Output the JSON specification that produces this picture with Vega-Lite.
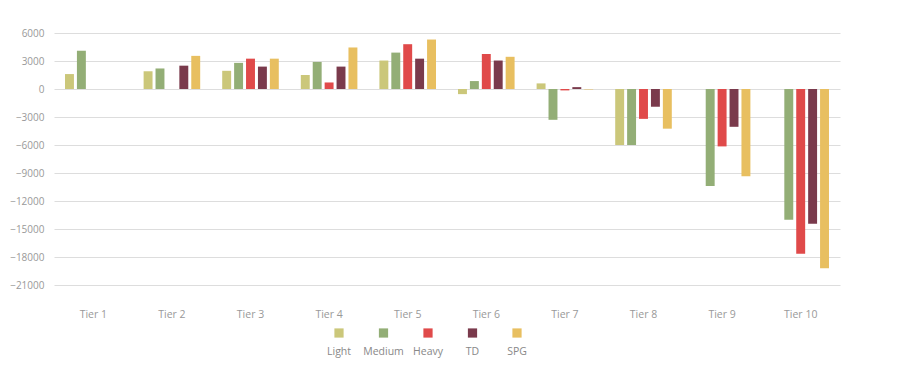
{
  "$schema": "https://vega.github.io/schema/vega-lite/v6.json",
  "background": "white",
  "padding": {"top": 28, "left": 5, "right": 5, "bottom": 5},
  "config": {
    "font": "Open Sans",
    "view": {"stroke": null},
    "axis": {"labelFont": "Open Sans", "labelColor": "#999999", "labelFontSize": 10, "domain": false, "ticks": false, "title": null, "gridColor": "#dddddd"},
    "concat": {"spacing": 4}
  },
  "datasets": {
    "tiers": [
      {"tier": "Tier 1", "type": "Light", "value": 1600},
      {"tier": "Tier 1", "type": "Medium", "value": 4100},
      {"tier": "Tier 2", "type": "Light", "value": 1900},
      {"tier": "Tier 2", "type": "Medium", "value": 2200},
      {"tier": "Tier 2", "type": "TD", "value": 2500},
      {"tier": "Tier 2", "type": "SPG", "value": 3550},
      {"tier": "Tier 3", "type": "Light", "value": 1950},
      {"tier": "Tier 3", "type": "Medium", "value": 2800},
      {"tier": "Tier 3", "type": "Heavy", "value": 3250},
      {"tier": "Tier 3", "type": "TD", "value": 2400},
      {"tier": "Tier 3", "type": "SPG", "value": 3250},
      {"tier": "Tier 4", "type": "Light", "value": 1500},
      {"tier": "Tier 4", "type": "Medium", "value": 2900},
      {"tier": "Tier 4", "type": "Heavy", "value": 700},
      {"tier": "Tier 4", "type": "TD", "value": 2400},
      {"tier": "Tier 4", "type": "SPG", "value": 4450},
      {"tier": "Tier 5", "type": "Light", "value": 3050},
      {"tier": "Tier 5", "type": "Medium", "value": 3900},
      {"tier": "Tier 5", "type": "Heavy", "value": 4800},
      {"tier": "Tier 5", "type": "TD", "value": 3250},
      {"tier": "Tier 5", "type": "SPG", "value": 5300},
      {"tier": "Tier 6", "type": "Light", "value": -550},
      {"tier": "Tier 6", "type": "Medium", "value": 850},
      {"tier": "Tier 6", "type": "Heavy", "value": 3750},
      {"tier": "Tier 6", "type": "TD", "value": 3050},
      {"tier": "Tier 6", "type": "SPG", "value": 3450},
      {"tier": "Tier 7", "type": "Light", "value": 600},
      {"tier": "Tier 7", "type": "Medium", "value": -3300},
      {"tier": "Tier 7", "type": "Heavy", "value": -150},
      {"tier": "Tier 7", "type": "TD", "value": 200},
      {"tier": "Tier 7", "type": "SPG", "value": -50},
      {"tier": "Tier 8", "type": "Light", "value": -6000},
      {"tier": "Tier 8", "type": "Medium", "value": -6000},
      {"tier": "Tier 8", "type": "Heavy", "value": -3200},
      {"tier": "Tier 8", "type": "TD", "value": -1900},
      {"tier": "Tier 8", "type": "SPG", "value": -4250},
      {"tier": "Tier 9", "type": "Medium", "value": -10400},
      {"tier": "Tier 9", "type": "Heavy", "value": -6150},
      {"tier": "Tier 9", "type": "TD", "value": -4050},
      {"tier": "Tier 9", "type": "SPG", "value": -9350},
      {"tier": "Tier 10", "type": "Medium", "value": -14000},
      {"tier": "Tier 10", "type": "Heavy", "value": -17650},
      {"tier": "Tier 10", "type": "TD", "value": -14450},
      {"tier": "Tier 10", "type": "SPG", "value": -19200}
    ],
    "legend": [
      {"type": "Light"}, {"type": "Medium"}, {"type": "Heavy"}, {"type": "TD"}, {"type": "SPG"}
    ]
  },
  "vconcat": [
    {
      "width": 786,
      "height": 252,
      "data": {"name": "tiers"},
      "mark": {"type": "bar"},
      "encoding": {
        "x": {
          "field": "tier", "type": "nominal",
          "sort": ["Tier 1", "Tier 2", "Tier 3", "Tier 4", "Tier 5", "Tier 6", "Tier 7", "Tier 8", "Tier 9", "Tier 10"],
          "scale": {"paddingInner": 0.28, "paddingOuter": 0.14},
          "axis": {"labelAngle": 0, "labelPadding": 24, "labelFontSize": 10.5, "labelColor": "#999999", "grid": false}
        },
        "xOffset": {
          "field": "type", "type": "nominal",
          "scale": {"domain": ["Light", "Medium", "Heavy", "TD", "SPG"], "paddingInner": 0.25}
        },
        "y": {
          "field": "value", "type": "quantitative",
          "scale": {"domain": [-21000, 6000], "nice": false},
          "axis": {"values": [-21000, -18000, -15000, -12000, -9000, -6000, -3000, 0, 3000, 6000], "format": "d", "labelColor": "#999999", "labelPadding": 10, "minExtent": 49, "maxExtent": 49}
        },
        "color": {
          "field": "type", "type": "nominal",
          "scale": {"domain": ["Light", "Medium", "Heavy", "TD", "SPG"], "range": ["#cbc77a", "#93ae76", "#e04a4a", "#7a3a4c", "#e8bf60"]},
          "legend": null
        }
      }
    },
    {
      "width": 786,
      "height": 18,
      "data": {"name": "legend"},
      "encoding": {
        "x": {
          "field": "type", "type": "nominal",
          "sort": ["Light", "Medium", "Heavy", "TD", "SPG"],
          "scale": {"type": "point", "range": [285, 463], "padding": 0},
          "axis": null
        },
        "color": {
          "field": "type", "type": "nominal",
          "scale": {"domain": ["Light", "Medium", "Heavy", "TD", "SPG"], "range": ["#cbc77a", "#93ae76", "#e04a4a", "#7a3a4c", "#e8bf60"]},
          "legend": null
        }
      },
      "layer": [
        {"mark": {"type": "point", "shape": "square", "filled": true, "opacity": 1, "size": 85}},
        {"mark": {"type": "text", "dy": 19, "fontSize": 10.5, "font": "Open Sans"}, "encoding": {"text": {"field": "type"}, "color": {"value": "#888888"}}}
      ]
    }
  ]
}
